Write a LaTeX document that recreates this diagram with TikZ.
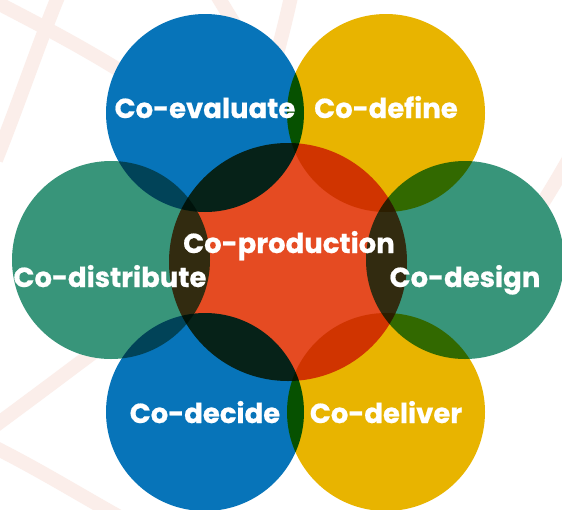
\documentclass[tikz,border=0pt]{standalone}
\usepackage{fontspec}
\setmainfont{Poppins}[BoldFeatures={FakeBold=0.6}]
\definecolor{cblue}{RGB}{7,116,185}
\definecolor{cyellow}{RGB}{232,180,0}
\definecolor{cgreen}{RGB}{56,149,122}
\definecolor{corange}{RGB}{229,75,34}
\definecolor{bgpink}{RGB}{251,238,234}
\tikzset{
  band/.style={draw=bgpink, line width=14pt},
  petal/.style={circle, inner sep=0pt, minimum size=198pt},
  core/.style={circle, inner sep=0pt, minimum size=238pt, fill=corange},
  lbl/.style={text=white, font=\bfseries\fontsize{27.5}{30}\selectfont, anchor=base, inner sep=0pt}
}
\begin{document}
\begin{tikzpicture}[x=1pt,y=-1pt]
\useasboundingbox (0,0) rectangle (562,509);
\fill[white] (0,0) rectangle (562,509);
% faint background rings
\draw[band] (-8,0) .. controls (30,20) and (80,45) .. (135,80);
\draw[band] (60,-8) .. controls (40,40) and (20,100) .. (-4,160);
\draw[band] (215,-8) .. controls (235,25) and (250,50) .. (270,80);
\draw[band] (292,-8) .. controls (285,25) and (278,50) .. (270,80);
\draw[band] (110,340) .. controls (70,370) and (30,400) .. (-8,428);
\draw[band] (-8,446) .. controls (40,470) and (80,495) .. (125,520);
\draw[band] (575,148) .. controls (560,175) and (548,195) .. (533,218);
% white mask under the circles
\fill[white] (205,113) circle (99pt) (386,113) circle (99pt)
  (111,260) circle (99pt) (465,260) circle (99pt)
  (205,412) circle (99pt) (386,412) circle (99pt) (288,262) circle (119pt);
% circles
\begin{scope}[blend mode=multiply]
\node[petal, fill=cblue] (evaluate) at (205,113) {};
\node[petal, fill=cyellow] (define) at (386,113) {};
\node[petal, fill=cgreen] (distribute) at (111,260) {};
\node[petal, fill=cgreen] (design) at (465,260) {};
\node[petal, fill=cblue] (decide) at (205,412) {};
\node[petal, fill=cyellow] (deliver) at (386,412) {};
\node[core] (production) at (288,262) {};
\end{scope}
% labels
\node[lbl] (tevaluate) at (205,118) {Co-evaluate};
\node[lbl] (tdefine) at (386,118) {Co-define};
\node[lbl] (tproduction) at (289,253) {Co-production};
\node[lbl] (tdistribute) at (110,287) {Co-distribute};
\node[lbl] (tdesign) at (465,287) {Co-design};
\node[lbl] (tdecide) at (205,423) {Co-decide};
\node[lbl] (tdeliver) at (386,423) {Co-deliver};
\end{tikzpicture}
\end{document}
